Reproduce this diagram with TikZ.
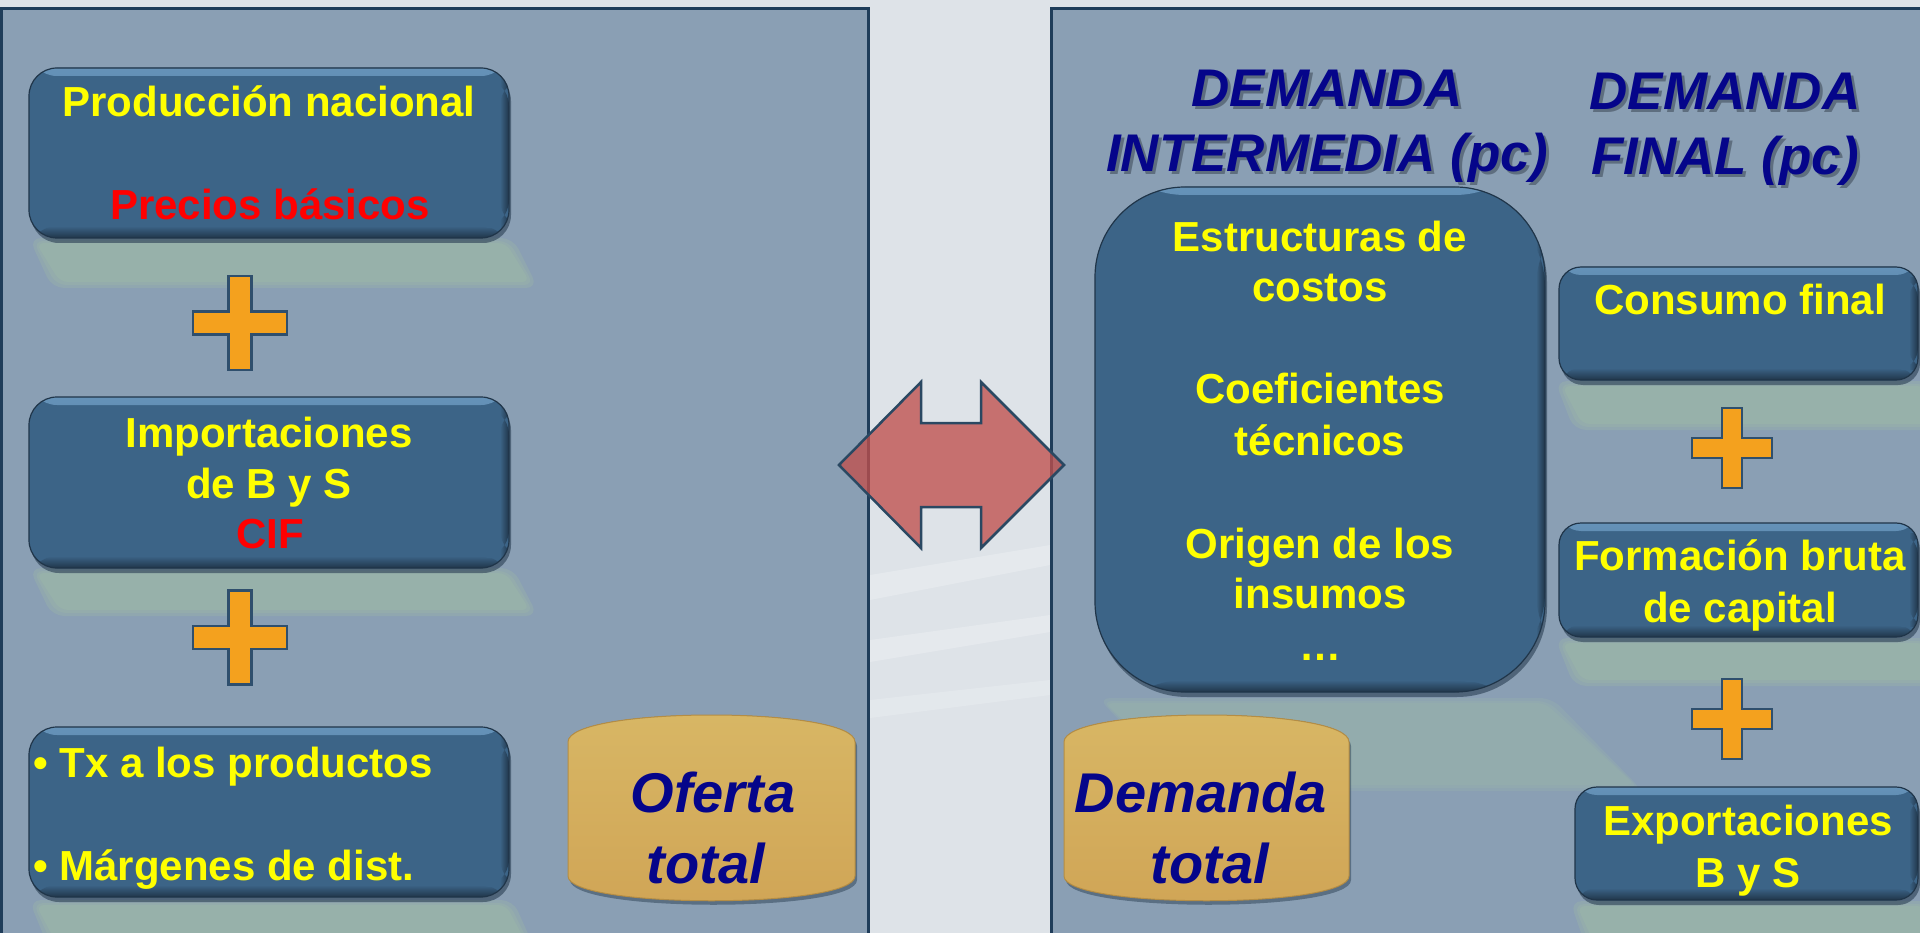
\documentclass[tikz,border=0pt]{standalone}
\usepackage{fontspec}
\setmainfont{Liberation Sans}
\usetikzlibrary{shadows}
\definecolor{bgc}{HTML}{DEE3E8}
\definecolor{panelc}{HTML}{8A9FB4}
\definecolor{panelbd}{HTML}{1F3D5A}
\definecolor{boxc}{HTML}{3C6487}
\definecolor{boxhl}{HTML}{6592B8}
\definecolor{boxdk}{HTML}{203549}
\definecolor{ylw}{HTML}{FFFF00}
\definecolor{rd}{HTML}{FF0000}
\definecolor{navy}{HTML}{05058A}
\definecolor{hshadow}{HTML}{2A3440}
\definecolor{orng}{HTML}{F4A11E}
\definecolor{plusbd}{HTML}{2F4F6D}
\definecolor{goldl}{HTML}{D8B765}
\definecolor{goldd}{HTML}{D0A556}
\definecolor{goldbd}{HTML}{B48D45}
\definecolor{reflc}{HTML}{97B1AA}
\definecolor{arrred}{HTML}{C0504D}
\definecolor{arrbd}{HTML}{2A4862}
\newcommand\drawplus[4]{%
  \draw[plusst] (#1-#4,#2-#3) -- (#1+#4,#2-#3) -- (#1+#4,#2-#4) -- (#1+#3,#2-#4)
    -- (#1+#3,#2+#4) -- (#1+#4,#2+#4) -- (#1+#4,#2+#3) -- (#1-#4,#2+#3)
    -- (#1-#4,#2+#4) -- (#1-#3,#2+#4) -- (#1-#3,#2-#4) -- (#1-#4,#2-#4) -- cycle;}
% soft reflection: x1 y1 x2 y2 dx (top edge x1..x2 at y1, bottom edge shifted by dx at y2)
\newcommand\softrefl[6][reflc]{%
  \fill[#1!45!panelc, rounded corners=12pt] (#2-7,#3-5) -- (#4+7,#3-5) -- (#4+#6+8,#5+6) -- (#2+#6-8,#5+6) -- cycle;
  \fill[#1!75!panelc, rounded corners=10pt] (#2-3,#3-2) -- (#4+3,#3-2) -- (#4+#6+4,#5+3) -- (#2+#6-4,#5+3) -- cycle;
  \fill[#1, rounded corners=8pt] (#2,#3) -- (#4,#3) -- (#4+#6,#5) -- (#2+#6,#5) -- cycle;}
\begin{document}
\begin{tikzpicture}[x=1pt,y=-1pt,
  panel/.style={fill=panelc, draw=panelbd, line width=3pt},
  bx/.style={rectangle, rounded corners=28pt, fill=boxc, draw=boxdk, line width=1.2pt,
    inner sep=0pt,
    drop shadow={shadow xshift=2pt, shadow yshift=-5pt, opacity=0.55, fill=boxdk},
    path picture={
      \fill[top color=boxhl, bottom color=boxc]
        (path picture bounding box.north west) rectangle ([yshift=-8pt]path picture bounding box.north east);
      \fill[top color=boxc, bottom color=boxdk]
        ([yshift=12pt]path picture bounding box.south west) rectangle (path picture bounding box.south east);
      \fill[left color=boxc, right color=boxdk]
        ([xshift=-9pt,yshift=-10pt]path picture bounding box.north east) rectangle ([yshift=10pt]path picture bounding box.south east);
    }},
  plusst/.style={fill=orng, draw=plusbd, line width=2.5pt},
  cyl/.style={top color=goldl, bottom color=goldd, draw=goldbd, line width=1pt,
    drop shadow={shadow xshift=2pt, shadow yshift=-4pt, opacity=0.45, fill=boxdk}},
  arrst/.style={fill=arrred, fill opacity=0.78, draw=arrbd, line width=2.5pt, line join=miter},
  yt/.style={font=\fontsize{42}{50}\selectfont\bfseries, text=ylw, inner sep=0pt, anchor=base},
  rt/.style={yt, text=rd},
  hd/.style={font=\fontsize{53}{65}\selectfont\bfseries\itshape, text=navy, inner sep=0pt, anchor=base},
  hds/.style={hd, text=hshadow, text opacity=0.45},
  ct/.style={font=\fontsize{56}{70}\selectfont\bfseries\itshape, text=navy, inner sep=0pt, anchor=base}
]
\useasboundingbox (0,0) rectangle (1920,933);
\fill[bgc] (0,0) rectangle (1920,933);
% faint light streaks in the gap
\fill[white, opacity=0.22] (870,575) -- (1050,545) -- (1050,565) -- (870,600) -- cycle;
\fill[white, opacity=0.22] (870,640) -- (1050,615) -- (1050,632) -- (870,662) -- cycle;
\fill[white, opacity=0.18] (870,700) -- (1050,680) -- (1050,695) -- (870,718) -- cycle;

% panels
\draw[panel] (1.5,8.5) rectangle (868.5,950);
\draw[panel] (1051.5,8.5) rectangle (1935,950);

% reflections
\softrefl{36}{243}{506}{282}{24}
\softrefl{36}{573}{506}{610}{24}
\softrefl{36}{905}{506}{950}{24}
\softrefl{1562}{386}{1925}{424}{20}
\softrefl{1562}{643}{1925}{680}{20}
\softrefl{1577}{906}{1925}{950}{20}
\softrefl[reflc!70!panelc]{1105}{703}{1545}{785}{90}

% left column boxes
\node[bx, minimum width=480pt, minimum height=170pt] (b1) at (269,153) {};
\node[bx, minimum width=480pt, minimum height=171pt] (b2) at (269,482.5) {};
\node[bx, minimum width=480pt, minimum height=170pt] (b3) at (269,812) {};

\node[yt] (t1a) at (269,117) {Producción nacional};
\node[rt] (t1b) at (270,220) {Precios básicos};
\node[yt] (t2a) at (269,447) {Importaciones};
\node[yt] (t2b) at (269,498) {de B y S};
\node[rt] (t2c) at (270,548) {CIF};
\node[yt, anchor=base west] (t3a) at (33,777) {\textbullet\ Tx a los productos};
\node[yt, anchor=base west] (t3b) at (33,880) {\textbullet\ Márgenes de dist.};

\drawplus{240}{323}{47}{11.5}
\drawplus{240}{637.5}{47}{11.5}

% Oferta total
\fill[cyl] (568,742) .. controls (568,706) and (855,706) .. (855,742)
  -- (855,876) .. controls (855,909) and (568,909) .. (568,876) -- cycle;
\node[ct] (ot1) at (713,812) {Oferta};
\node[ct] (ot2) at (706,883) {total};

% double arrow
\draw[arrst] (839,465) -- (921,382) -- (921,423) -- (981,423) -- (981,382) -- (1064,465)
  -- (981,548) -- (981,507) -- (921,507) -- (921,548) -- cycle;

% headings
\node[hds] (h1as) at (1330,110) {DEMANDA};
\node[hds] (h1bs) at (1330,175) {INTERMEDIA (pc)};
\node[hds] (h2as) at (1728,113) {DEMANDA};
\node[hds] (h2bs) at (1728,178) {FINAL (pc)};
\node[hd] (h1a) at (1327,107) {DEMANDA};
\node[hd] (h1b) at (1327,172) {INTERMEDIA (pc)};
\node[hd] (h2a) at (1725,110) {DEMANDA};
\node[hd] (h2b) at (1725,175) {FINAL (pc)};

% big box
\node[bx, rounded corners=90pt, minimum width=450pt, minimum height=505pt] (big) at (1320,439.5) {};
\node[yt] (g1) at (1320,252) {Estructuras de};
\node[yt] (g2) at (1320,302) {costos};
\node[yt] (g3) at (1320,403) {Coeficientes};
\node[yt] (g4) at (1320,455) {técnicos};
\node[yt] (g5) at (1320,558) {Origen de los};
\node[yt] (g6) at (1320,608) {insumos};
\node[yt] (g7) at (1320,660) {…};

% Demanda total
\fill[cyl] (1064,742) .. controls (1064,706) and (1349,706) .. (1349,742)
  -- (1349,876) .. controls (1349,909) and (1064,909) .. (1064,876) -- cycle;
\node[ct] (dt1) at (1201,812) {Demanda};
\node[ct] (dt2) at (1210,883) {total};

% right column
\node[bx, rounded corners=22pt, minimum width=359pt, minimum height=113pt] (c1) at (1738.5,323.5) {};
\node[yt] (c1a) at (1740,315) {Consumo final};
\drawplus{1732}{448}{40}{10}
\node[bx, rounded corners=22pt, minimum width=359pt, minimum height=114pt] (c2) at (1738.5,580) {};
\node[yt] (c2a) at (1740,570) {Formación bruta};
\node[yt] (c2b) at (1740,622) {de capital};
\drawplus{1732}{719}{40}{10}
\node[bx, rounded corners=22pt, minimum width=343pt, minimum height=113pt] (c3) at (1746.5,843.5) {};
\node[yt] (c3a) at (1748,835) {Exportaciones};
\node[yt] (c3b) at (1748,887) {B y S};
\end{tikzpicture}
\end{document}
